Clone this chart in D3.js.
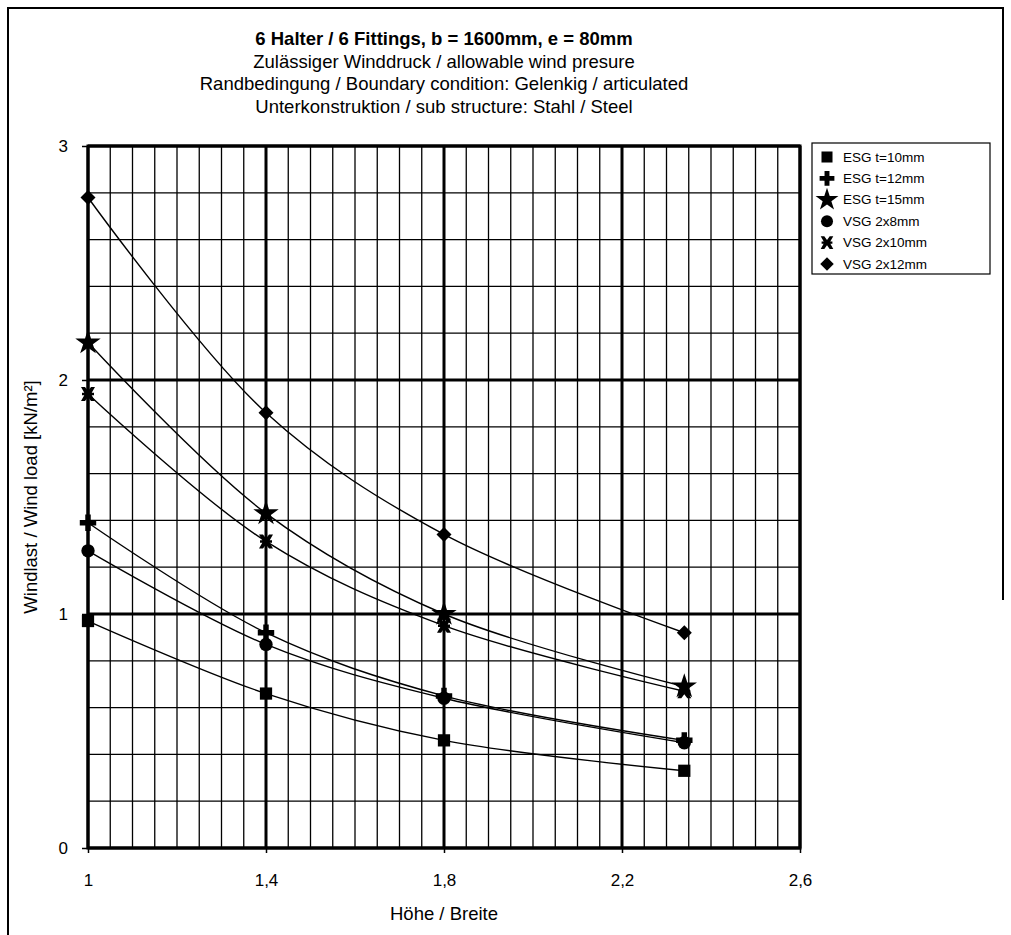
<!DOCTYPE html>
<html>
<head>
<meta charset="utf-8">
<script src="https://cdn.jsdelivr.net/npm/d3@7"></script>
<style>
  body { margin: 0; background: #fff; }
  svg { display: block; font-family: "Liberation Sans", Arial, sans-serif; }
</style>
</head>
<body>
<div id="chart"></div>
<script>
// chart data
const ratio = [1, 1.4, 1.8, 2.34];            // Höhe / Breite
const esg10 = [0.97, 0.66, 0.46, 0.33];
const esg12 = [1.39, 0.92, 0.65, 0.46];
const esg15 = [2.16, 1.43, 1.00, 0.69];
const vsg8  = [1.27, 0.87, 0.64, 0.45];
const vsg10 = [1.94, 1.31, 0.95, 0.67];
const vsg12 = [2.78, 1.86, 1.34, 0.92];

const seriesNames = ["ESG t=10mm", "ESG t=12mm", "ESG t=15mm", "VSG 2x8mm", "VSG 2x10mm", "VSG 2x12mm"];
const seriesMarks = ["square", "cross", "star", "circle", "times", "diamond"];
const xTicks = [1, 1.4, 1.8, 2.2, 2.6];
const yTicks = [0, 1, 2, 3];

const titleLines = [
  "6 Halter / 6 Fittings, b = 1600mm, e = 80mm",
  "Zulässiger Winddruck / allowable wind presure",
  "Randbedingung / Boundary condition: Gelenkig / articulated",
  "Unterkonstruktion / sub structure: Stahl / Steel"
];

const W = 1011, H = 935;
const plot = {left: 88, right: 800, top: 146, bottom: 848};

const svg = d3.select("#chart").append("svg")
  .attr("width", W).attr("height", H);

// outer frame
svg.append("path")
  .attr("d", "M8,935 L8,8 L1003,8 L1003,600")
  .attr("fill", "none").attr("stroke", "#000").attr("stroke-width", 2);

const x = d3.scaleLinear().domain([1, 2.6]).range([plot.left, plot.right]);
const y = d3.scaleLinear().domain([0, 3]).range([plot.bottom, plot.top]);

const comma = d3.formatLocale({decimal: ",", thousands: ".", grouping: [3], currency: ["", ""]});
const fmt = comma.format("~g");

// grid lines: minor every 0.05 / 0.2, major every 0.4 / 1
const xMinor = d3.range(0, 33).map(i => 1 + i * 0.05);
const yMinor = d3.range(0, 16).map(i => i * 0.2);

const grid = svg.append("g");
grid.selectAll(".vx").data(xMinor).join("line")
  .attr("x1", d => x(d)).attr("x2", d => x(d))
  .attr("y1", plot.top).attr("y2", plot.bottom)
  .attr("stroke", "#000").attr("stroke-width", 1.3);
grid.selectAll(".hy").data(yMinor).join("line")
  .attr("y1", d => y(d)).attr("y2", d => y(d))
  .attr("x1", plot.left).attr("x2", plot.right)
  .attr("stroke", "#000").attr("stroke-width", 1.3);
grid.selectAll(".vmaj").data(xTicks).join("line")
  .attr("x1", d => x(d)).attr("x2", d => x(d))
  .attr("y1", plot.top).attr("y2", plot.bottom)
  .attr("stroke", "#000").attr("stroke-width", 3);
grid.selectAll(".hmaj").data(yTicks).join("line")
  .attr("y1", d => y(d)).attr("y2", d => y(d))
  .attr("x1", plot.left).attr("x2", plot.right)
  .attr("stroke", "#000").attr("stroke-width", 3);

svg.append("rect")
  .attr("x", plot.left).attr("y", plot.top)
  .attr("width", plot.right - plot.left).attr("height", plot.bottom - plot.top)
  .attr("fill", "none").attr("stroke", "#000").attr("stroke-width", 3);

// axes
const xAxis = svg.append("g")
  .attr("transform", `translate(0,${plot.bottom})`)
  .call(d3.axisBottom(x).tickValues(xTicks).tickSize(5).tickPadding(21).tickFormat(fmt));
const yAxis = svg.append("g")
  .attr("transform", `translate(${plot.left},0)`)
  .call(d3.axisLeft(y).tickValues(yTicks).tickSize(6).tickPadding(14).tickFormat(fmt));
[xAxis, yAxis].forEach(a => {
  a.select(".domain").remove();
  a.selectAll("line").attr("stroke", "#000").attr("stroke-width", 1.5);
  a.selectAll("text").attr("font-size", 17).attr("fill", "#000")
    .attr("font-family", "Liberation Sans, Arial, sans-serif");
});

svg.append("text")
  .attr("x", (plot.left + plot.right) / 2).attr("y", 920)
  .attr("text-anchor", "middle").attr("font-size", 18.5)
  .text("Höhe / Breite");

svg.append("text")
  .attr("transform", `translate(37,${(plot.top + plot.bottom) / 2}) rotate(-90)`)
  .attr("text-anchor", "middle").attr("font-size", 18.5)
  .text("Windlast / Wind load [kN/m²]");

// titles
svg.selectAll(".title").data(titleLines).join("text")
  .attr("x", (plot.left + plot.right) / 2)
  .attr("y", (d, i) => 45 + i * 22.7)
  .attr("text-anchor", "middle").attr("font-size", 18.5)
  .attr("font-weight", (d, i) => i === 0 ? "bold" : "normal")
  .text(d => d);

// markers
function markPath(kind) {
  switch (kind) {
    case "square": return d3.symbol(d3.symbolSquare, 150)();
    case "cross": return d3.symbol(d3.symbolCross, 150)();
    case "star": return d3.symbol(d3.symbolStar, 200)();
    case "circle": return d3.symbol(d3.symbolCircle, 140)();
    case "diamond": return "M0,-7.5 L7.5,0 L0,7.5 L-7.5,0 Z";
    case "times": return "M-7,-7 L-3,-7 L0,-3 L3,-7 L7,-7 L3,0 L7,7 L3,7 L0,3 L-3,7 L-7,7 L-3,0 Z M-6,-1.3 L6,-1.3 L6,1.3 L-6,1.3 Z";
  }
}

const allSeries = [esg10, esg12, esg15, vsg8, vsg10, vsg12];
const line = d3.line().x((d, i) => x(ratio[i])).y(d => y(d)).curve(d3.curveCatmullRom.alpha(0.5));

const lines = svg.append("g");
allSeries.forEach((vals, s) => {
  lines.append("path")
    .attr("d", line(vals))
    .attr("fill", "none").attr("stroke", "#000").attr("stroke-width", 1.4);
  lines.selectAll(null).data(vals).join("path")
    .attr("transform", (d, i) => `translate(${x(ratio[i])},${y(d)})`)
    .attr("d", markPath(seriesMarks[s]))
    .attr("fill", "#000");
});

// legend
const lg = svg.append("g").attr("transform", "translate(812,143)");
lg.append("rect").attr("width", 178).attr("height", 131)
  .attr("fill", "#fff").attr("stroke", "#000").attr("stroke-width", 1.2);
const items = lg.selectAll(".item").data(seriesNames).join("g")
  .attr("transform", (d, i) => `translate(0,${14 + i * 21.4})`);
items.append("path")
  .attr("transform", "translate(15,0) scale(0.9)")
  .attr("d", (d, i) => markPath(seriesMarks[i]))
  .attr("fill", "#000");
items.append("text")
  .attr("x", 31).attr("y", 4.5)
  .attr("font-size", 13.5)
  .text(d => d);
</script>
</body>
</html>
